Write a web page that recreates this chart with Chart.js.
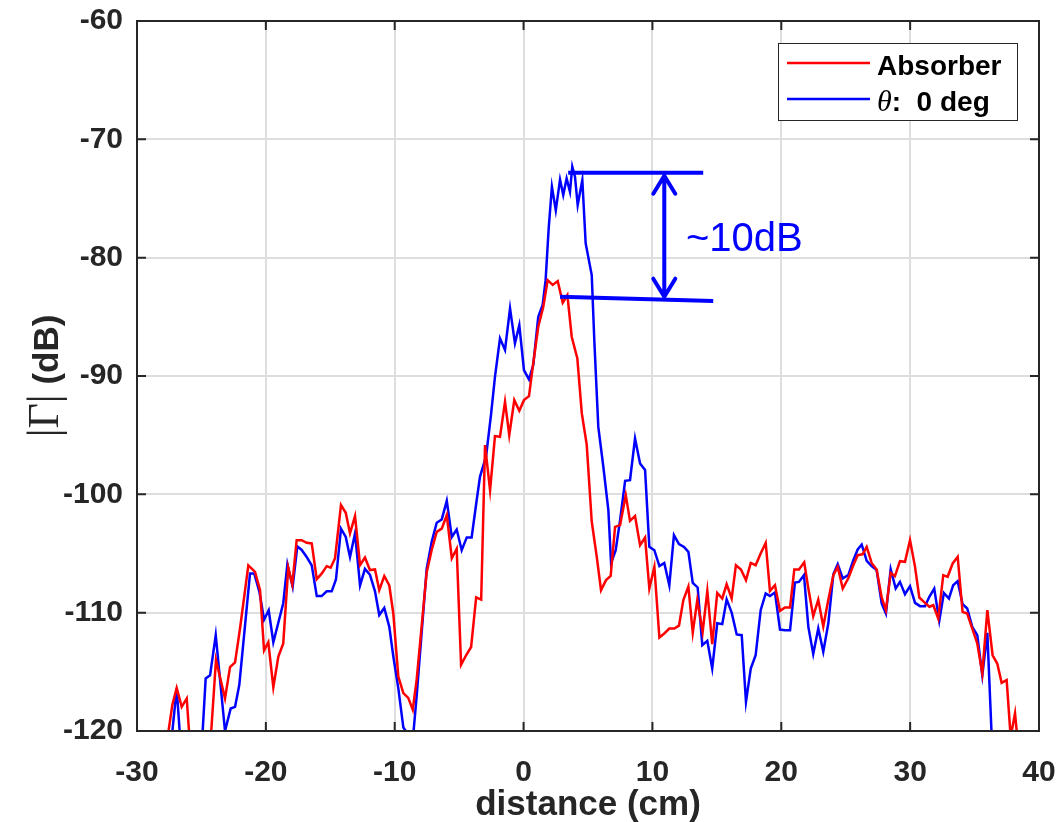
<!DOCTYPE html>
<html lang="en">
<head>
    <meta charset="UTF-8">
    <title>Reflection vs distance</title>
    <script src="https://cdn.jsdelivr.net/npm/chart.js"></script>
    <style>
        body { margin: 0; padding: 0; background: white; }
        .chart-container { width: 1059px; height: 822px; position: relative; }
        canvas { display: block; }
    </style>
</head>
<body>
    <div class="chart-container">
        <canvas id="gammaChart"></canvas>
    </div>

    <script>
        const xTicks = [-30, -20, -10, 0, 10, 20, 30, 40];
        const yTicks = [-120, -110, -100, -90, -80, -70, -60];
        const seriesNames = ['Absorber', '0 deg'];

        // Absorber trace: [distance cm, |Gamma| dB]
        const absorber = [
            [-27.62, -120.5], [-27.26, -117.8], [-26.92, -116.36], [-26.53, -117.96], [-26.14, -117.25],
            [-25.9, -121], [-25.3, -123], [-24.6, -122.5], [-24.3, -121],
            [-23.87, -114.0], [-23.17, -117.25], [-22.78, -114.6], [-22.39, -114.2], [-22.0, -111.3],
            [-21.36, -106.0], [-20.84, -106.55], [-20.45, -108.1], [-20.14, -113.2], [-19.81, -112.5],
            [-19.42, -116.3], [-19.03, -113.7], [-18.65, -112.6], [-18.26, -106.2], [-17.95, -107.6],
            [-17.61, -103.87], [-17.22, -103.87], [-16.83, -104.1], [-16.44, -104.15], [-16.05, -107.17],
            [-15.67, -106.7], [-15.28, -106.07], [-14.97, -106.2], [-14.63, -105.4], [-14.17, -100.9],
            [-13.8, -101.56], [-13.47, -103.3], [-13.08, -101.84], [-12.69, -105.98], [-12.31, -105.34],
            [-11.92, -106.4], [-11.53, -106.35], [-11.2, -108.1], [-10.81, -106.9], [-10.42, -107.7],
            [-10.11, -110.07], [-9.72, -115.4], [-9.33, -116.8], [-8.95, -117.2], [-8.6, -118.2],
            [-8.3, -115.7], [-7.52, -106.6], [-7.13, -104.7], [-6.74, -103.17], [-6.35, -102.9],
            [-5.96, -101.76], [-5.57, -105.4], [-5.19, -104.6], [-4.85, -114.4], [-4.46, -113.6],
            [-4.07, -112.9], [-3.68, -108.7], [-3.29, -108.9], [-2.99, -95.84], [-2.6, -99.65],
            [-2.22, -95.08], [-1.83, -95.14], [-1.44, -92.18], [-1.11, -95.0], [-0.72, -92.04],
            [-0.33, -92.94], [0.03, -92.04], [0.42, -91.7], [0.75, -88.94], [1.14, -85.84],
            [1.53, -84.15], [1.87, -81.9], [2.26, -82.3], [2.65, -81.98], [3.04, -83.8],
            [3.4, -83.16], [3.74, -86.7], [4.17, -88.5], [4.52, -93.16], [4.9, -95.8],
            [5.29, -102.3], [5.68, -105.28], [6.01, -108.1], [6.4, -107.25], [6.76, -106.9],
            [7.1, -102.75], [7.49, -102.6], [7.93, -100.07], [8.26, -102.24], [8.65, -101.84],
            [9.04, -104.3], [9.43, -103.65], [9.76, -107.96], [10.15, -106.13], [10.54, -112.1],
            [10.92, -111.76], [11.31, -111.34], [11.7, -111.34], [12.06, -111.1], [12.4, -108.94],
            [12.79, -107.8], [13.13, -111.7], [13.48, -108.94], [13.9, -111.6], [14.26, -108.16],
            [14.64, -112.66], [15.03, -108.33], [15.42, -108.8], [15.76, -107.6], [16.15, -108.8],
            [16.48, -105.99], [16.87, -106.35], [17.26, -107.25], [17.63, -105.8], [18.01, -105.99],
            [18.4, -105.0], [18.79, -104.1], [19.12, -108.16], [19.51, -107.68], [19.9, -109.85],
            [20.29, -109.56], [20.68, -109.56], [21.01, -106.35], [21.37, -106.35], [21.78, -105.75],
            [22.1, -107.96], [22.48, -110.3], [22.87, -108.9], [23.26, -111.16], [23.65, -108.9],
            [24.04, -106.83], [24.38, -106.13], [24.77, -107.96], [25.2, -107.1], [25.59, -105.99],
            [25.93, -105.14], [26.32, -105.06], [26.63, -104.44], [27.01, -105.8], [27.4, -106.35],
            [27.79, -108.72], [28.12, -109.79], [28.49, -106.63], [28.82, -106.92], [29.21, -105.65],
            [29.6, -105.7], [29.99, -103.87], [30.38, -106.13], [30.71, -108.72], [31.07, -109.09],
            [31.49, -109.5], [31.8, -109.37], [32.18, -110.5], [32.57, -106.83], [32.91, -106.97],
            [33.3, -105.84], [33.69, -105.28], [34.07, -109.93], [34.43, -110.07], [34.82, -111.34],
            [35.21, -112.6], [35.6, -115.14], [35.99, -109.79], [36.4, -113.6], [36.76, -114.3],
            [37.1, -115.93], [37.49, -115.7], [37.8, -120.5], [38.14, -118.5], [38.31, -120.5]
        ];

        // theta = 0 deg trace
        const theta0 = [
            [-27.3, -120.5], [-26.92, -116.4], [-26.66, -120.5], [-26.2, -124], [-25.3, -124],
            [-24.93, -120.5], [-24.67, -115.56], [-24.33, -115.3], [-23.89, -111.9], [-23.17, -120.0],
            [-22.73, -118.1], [-22.39, -117.96], [-22.06, -116.1], [-21.23, -106.7], [-20.9, -106.7],
            [-20.5, -108.24], [-20.14, -110.6], [-19.78, -109.8], [-19.42, -112.5], [-18.65, -109.2],
            [-18.33, -105.9], [-17.92, -107.8], [-17.56, -104.4], [-17.22, -104.7], [-16.83, -105.3],
            [-16.44, -106.0], [-16.05, -108.6], [-15.67, -108.6], [-15.28, -108.2], [-14.89, -108.2],
            [-14.56, -107.2], [-14.17, -102.9], [-13.8, -103.6], [-13.47, -105.3], [-13.08, -103.3],
            [-12.69, -107.7], [-12.31, -106.3], [-11.92, -106.8], [-11.53, -108.2], [-11.2, -110.2],
            [-10.81, -109.6], [-10.42, -111.2], [-10.11, -113.7], [-9.72, -116.4], [-9.33, -119.7],
            [-8.95, -120.3], [-8.56, -120.3], [-8.3, -117.1], [-7.52, -106.3], [-7.13, -104.0],
            [-6.74, -102.4], [-6.35, -102.12], [-5.96, -100.55], [-5.57, -103.6], [-5.19, -102.97],
            [-4.8, -104.72], [-4.41, -103.64], [-4.03, -103.64], [-3.64, -100.5], [-3.38, -98.5],
            [-2.91, -96.8], [-2.53, -93.3], [-2.22, -90.07], [-1.83, -86.82], [-1.44, -87.8],
            [-1.05, -84.29], [-0.67, -87.24], [-0.33, -85.7], [0.03, -89.5], [0.42, -90.29],
            [0.75, -89.08], [1.14, -85.0], [1.48, -84.0], [1.71, -81.9], [1.95, -77.5],
            [2.2, -74.0], [2.5, -76.0], [2.83, -73.4], [3.08, -74.7], [3.34, -73.3],
            [3.6, -74.43], [3.78, -72.31], [3.99, -73.16], [4.2, -75.55], [4.56, -73.44],
            [4.82, -78.8], [5.29, -81.47], [5.49, -87.0], [5.8, -94.3], [6.19, -97.67],
            [6.58, -101.34], [6.79, -105.8], [7.15, -104.72], [7.49, -102.18], [7.88, -98.86],
            [8.26, -98.8], [8.65, -95.28], [9.04, -97.39], [9.43, -97.95], [9.76, -104.44],
            [10.15, -104.72], [10.54, -106.07], [10.92, -105.8], [11.31, -107.68], [11.67, -103.45],
            [12.06, -104.2], [12.45, -104.44], [12.79, -104.86], [13.13, -107.48], [13.51, -107.87],
            [13.87, -112.75], [14.26, -112.38], [14.64, -114.72], [15.03, -110.9], [15.42, -110.97],
            [15.76, -108.88], [16.15, -110.0], [16.54, -111.84], [16.93, -111.9], [17.26, -117.54],
            [17.63, -114.72], [18.01, -113.6], [18.4, -109.79], [18.79, -108.38], [19.12, -108.6],
            [19.51, -108.3], [19.9, -111.43], [20.29, -111.48], [20.68, -111.48], [21.06, -107.45],
            [21.37, -107.4], [21.76, -106.83], [22.1, -111.2], [22.48, -113.5], [22.87, -111.34],
            [23.26, -113.3], [23.65, -110.9], [24.04, -106.75], [24.38, -105.9], [24.77, -107.1],
            [25.2, -106.83], [25.59, -105.56], [25.93, -104.66], [26.24, -104.24], [26.63, -105.62],
            [27.01, -106.07], [27.4, -106.4], [27.79, -109.22], [28.12, -110.07], [28.49, -106.32],
            [28.88, -107.96], [29.21, -107.4], [29.6, -108.44], [29.99, -107.76], [30.38, -109.17],
            [30.77, -109.45], [31.15, -109.45], [31.49, -108.66], [31.87, -107.96], [32.26, -110.69],
            [32.62, -108.33], [33.01, -108.8], [33.34, -107.68], [33.69, -107.34], [34.07, -109.28],
            [34.43, -109.65], [34.82, -111.2], [35.21, -111.9], [35.6, -115.3], [35.99, -111.7],
            [36.33, -120.5], [36.5, -124]
        ];

        // ~10dB marker: top level line, bottom level line, arrow x
        const topLevel = [[3.46, -72.82], [13.94, -72.82]];
        const bottomLevel = [[2.83, -83.3], [14.72, -83.67]];
        const arrowX = 10.92;
        const arrowLabel = '~10dB';

        const SANS = "'Liberation Sans', Arial, sans-serif";
        const SERIF = "'Liberation Serif', 'Times New Roman', serif";
        const AXIS_COLOR = '#262626';

        const toXY = pts => pts.map(p => ({ x: p[0], y: p[1] }));

        // frame, inward ticks, axis titles, legend and the ~10dB annotation
        const decorPlugin = {
            id: 'decor',
            afterDraw(chart) {
                const c = chart.ctx;
                const a = chart.chartArea;
                const xs = chart.scales.x, ys = chart.scales.y;
                c.save();

                // box + inward ticks
                c.strokeStyle = AXIS_COLOR;
                c.lineWidth = 2;
                c.strokeRect(a.left, a.top, a.right - a.left, a.bottom - a.top);
                c.beginPath();
                xTicks.forEach(v => {
                    const px = xs.getPixelForValue(v);
                    c.moveTo(px, a.bottom); c.lineTo(px, a.bottom - 9);
                    c.moveTo(px, a.top); c.lineTo(px, a.top + 9);
                });
                yTicks.forEach(v => {
                    const py = ys.getPixelForValue(v);
                    c.moveTo(a.left, py); c.lineTo(a.left + 9, py);
                    c.moveTo(a.right, py); c.lineTo(a.right - 9, py);
                });
                c.stroke();

                // axis titles
                c.fillStyle = AXIS_COLOR;
                c.font = 'bold 35px ' + SANS;
                c.textAlign = 'center';
                c.textBaseline = 'alphabetic';
                c.fillText('distance (cm)', (a.left + a.right) / 2, 815);

                c.save();
                c.translate(58, (a.top + a.bottom) / 2);
                c.rotate(-Math.PI / 2);
                const p1 = '|\u0393|', p2 = ' (dB)';
                c.font = '44px ' + SERIF;
                const w1 = c.measureText(p1).width;
                c.font = 'bold 35px ' + SANS;
                const w2 = c.measureText(p2).width;
                c.textAlign = 'left';
                c.font = '44px ' + SERIF;
                c.fillText(p1, -(w1 + w2) / 2, 0);
                c.font = 'bold 35px ' + SANS;
                c.fillText(p2, -(w1 + w2) / 2 + w1, 0);
                c.restore();

                // legend box
                const bx = a.right - 261, by = a.top + 22, bw = 239, bh = 77;
                c.fillStyle = 'white';
                c.fillRect(bx, by, bw, bh);
                c.lineWidth = 1;
                c.strokeStyle = AXIS_COLOR;
                c.strokeRect(bx + 0.5, by + 0.5, bw, bh);
                c.lineWidth = 2.5;
                c.strokeStyle = '#ff0000';
                c.beginPath(); c.moveTo(bx + 9, by + 20); c.lineTo(bx + 92, by + 20); c.stroke();
                c.strokeStyle = '#0000ff';
                c.beginPath(); c.moveTo(bx + 9, by + 56); c.lineTo(bx + 92, by + 56); c.stroke();
                c.fillStyle = 'black';
                c.textAlign = 'left';
                c.font = 'bold 28px ' + SANS;
                c.fillText(seriesNames[0], bx + 99, by + 32);
                c.font = 'italic 30px ' + SERIF;
                c.fillText('\u03b8', bx + 99, by + 68);
                const tw = c.measureText('\u03b8').width;
                c.font = 'bold 28px ' + SANS;
                c.fillText(':  ' + seriesNames[1], bx + 99 + tw, by + 68);

                // ~10dB annotation
                c.strokeStyle = '#0000ff';
                c.fillStyle = '#0000ff';
                c.lineWidth = 4;
                c.lineCap = 'butt';
                [topLevel, bottomLevel].forEach(seg => {
                    c.beginPath();
                    c.moveTo(xs.getPixelForValue(seg[0][0]), ys.getPixelForValue(seg[0][1]));
                    c.lineTo(xs.getPixelForValue(seg[1][0]), ys.getPixelForValue(seg[1][1]));
                    c.stroke();
                });
                const ax = xs.getPixelForValue(arrowX);
                const ay1 = ys.getPixelForValue(topLevel[0][1]) + 3;
                const ay2 = ys.getPixelForValue(-83.55) - 3;
                c.lineCap = 'round';
                c.lineJoin = 'round';
                c.beginPath();
                c.moveTo(ax, ay1); c.lineTo(ax, ay2);
                c.moveTo(ax - 11, ay1 + 18); c.lineTo(ax, ay1); c.lineTo(ax + 11, ay1 + 18);
                c.moveTo(ax - 11, ay2 - 18); c.lineTo(ax, ay2); c.lineTo(ax + 11, ay2 - 18);
                c.stroke();
                c.font = '40px ' + SANS;
                c.textAlign = 'left';
                c.fillText(arrowLabel, xs.getPixelForValue(12.6), ys.getPixelForValue(-79.4));

                c.restore();
            }
        };

        const ctx = document.getElementById('gammaChart').getContext('2d');
        new Chart(ctx, {
            type: 'line',
            data: {
                datasets: [
                    { label: seriesNames[0], data: toXY(absorber), borderColor: '#ff0000', borderWidth: 2.5, pointRadius: 0, tension: 0 },
                    { label: seriesNames[1], data: toXY(theta0), borderColor: '#0000ff', borderWidth: 2.5, pointRadius: 0, tension: 0 }
                ]
            },
            options: {
                responsive: true,
                maintainAspectRatio: false,
                animation: false,
                layout: { padding: { top: 21, right: 20, left: 0, bottom: 0 } },
                scales: {
                    x: {
                        type: 'linear', min: -30, max: 40,
                        afterBuildTicks: s => { s.ticks = xTicks.map(v => ({ value: v })); },
                        afterFit: s => { s.height = 91; s.paddingLeft = 0; s.paddingRight = 0; },
                        grid: { color: '#dedede', lineWidth: 2, drawTicks: false },
                        border: { display: false },
                        ticks: { color: AXIS_COLOR, padding: 24, font: { family: SANS, size: 30, weight: 'bold' }, maxRotation: 0 }
                    },
                    y: {
                        type: 'linear', min: -120, max: -60,
                        afterBuildTicks: s => { s.ticks = yTicks.map(v => ({ value: v })); },
                        afterFit: s => { s.width = 137; s.paddingTop = 0; s.paddingBottom = 0; },
                        grid: { color: '#dedede', lineWidth: 2, drawTicks: false },
                        border: { display: false },
                        ticks: { color: AXIS_COLOR, padding: 14, font: { family: SANS, size: 30, weight: 'bold' } }
                    }
                },
                plugins: {
                    legend: { display: false },
                    tooltip: { enabled: false }
                }
            },
            plugins: [decorPlugin]
        });
    </script>
</body>
</html>
